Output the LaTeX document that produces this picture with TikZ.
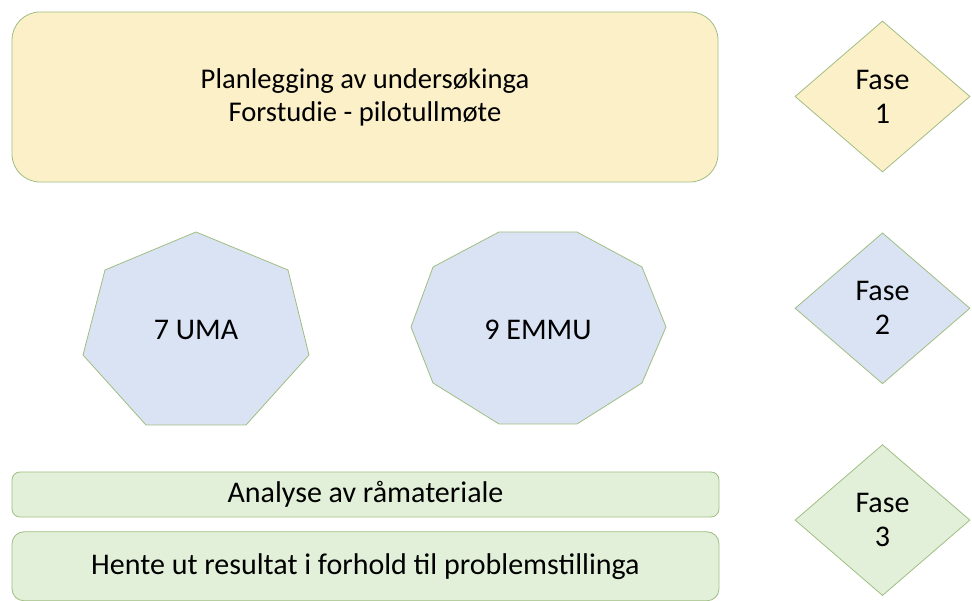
\documentclass[tikz,border=0pt]{standalone}
\usepackage{fontspec}
\setmainfont{Carlito}
\usetikzlibrary{positioning,shapes.geometric}

\definecolor{edgegreen}{RGB}{160,190,130}
\definecolor{fillyellow}{RGB}{252,240,201}
\definecolor{fillblue}{RGB}{218,227,243}
\definecolor{fillgreen}{RGB}{226,240,217}

\tikzset{
  phasebox/.style={draw=edgegreen, line width=0.8pt, align=center, inner sep=0pt},
  phasediamond/.style={diamond, draw=edgegreen, line width=0.8pt, align=center,
    minimum width=175pt, minimum height=151pt, inner sep=0pt,
    font=\fontsize{30}{34}\selectfont},
  bigtext/.style={font=\fontsize{30}{34}\selectfont},
  toptext/.style={font=\fontsize{28.6}{33}\selectfont}
}

\begin{document}
\begin{tikzpicture}[x=1pt, y=1pt, node distance=60pt and 60pt]

        \useasboundingbox (0,0) rectangle (972,601);

        % Phase 1
        \node (plan) [phasebox, toptext, fill=fillyellow, rounded corners=28pt,
          minimum width=706pt, minimum height=170pt] at (365,504)
          {Planlegging av undersøkinga\\Forstudie - pilotullmøte};

        % Phase 2 (polygons drawn directly)
        \draw[draw=edgegreen, line width=0.8pt, fill=fillblue]
          (196,369) -- (288,331) -- (309,246) -- (246,176)
          -- (146,176) -- (83,246) -- (105,331) -- cycle;
        \node (uma) [bigtext] at (196,271) {7 UMA};

        \draw[draw=edgegreen, line width=0.8pt, fill=fillblue]
          (499,369) -- (577,369) -- (642,334) -- (666,274) -- (642,218)
          -- (577,177) -- (499,177) -- (433,218) -- (411,274) -- (433,334) -- cycle;
        \node (emmu) [bigtext] at (538,271) {9 EMMU};

        % Phase 3
        \node (analyse) [phasebox, bigtext, fill=fillgreen, rounded corners=8pt,
          minimum width=707pt, minimum height=45pt] at (365.5,106.5)
          {Analyse av råmateriale};
        \node (hente) [phasebox, bigtext, fill=fillgreen, rounded corners=12pt,
          minimum width=707pt, minimum height=69pt, below=14pt of analyse]
          {Hente ut resultat i forhold til problemstillinga};

        % Phase markers
        \node (fase1) [phasediamond, fill=fillyellow] at (882.5,504.5) {Fase\\1};
        \node (fase2) [phasediamond, fill=fillblue, below=of fase1] {Fase\\2};
        \node (fase3) [phasediamond, fill=fillgreen, below=of fase2] {Fase\\3};

\end{tikzpicture}
\end{document}
